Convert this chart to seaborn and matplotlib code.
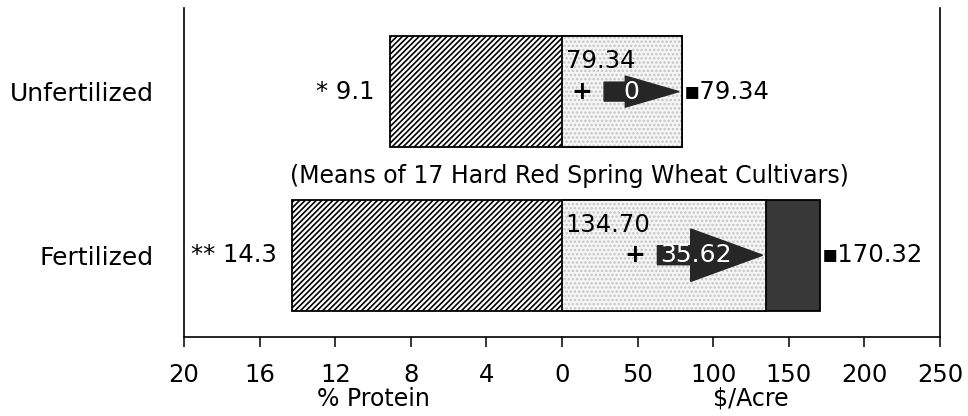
import matplotlib
matplotlib.use("Agg")
import matplotlib.pyplot as plt
import seaborn as sns
import pandas as pd
from matplotlib.patches import FancyArrow

# ---------------- data ----------------
categories = ["Unfertilized", "Fertilized"]
protein = [9.1, 14.3]
protein_marks = ["*", "**"]
base_return = [79.34, 134.70]
fert_gain = [0, 35.62]
total_return = [79.34, 170.32]
base_labels = ["79.34", "134.70"]
gain_labels = ["0", "35.62"]
total_labels = ["79.34", "170.32"]
protein_ticks = [20, 16, 12, 8, 4, 0]
dollar_ticks = [50, 100, 150, 200, 250]
note = "(Means of 17 Hard Red Spring Wheat Cultivars)"

# ---------------- style ----------------
sns.set_theme(style="ticks")
plt.rcParams["font.family"] = ["DejaVu Sans"]
for k in ("axes.edgecolor", "xtick.color", "ytick.color", "text.color",
          "axes.labelcolor", "xtick.labelcolor", "ytick.labelcolor"):
    plt.rcParams[k] = "black"
plt.rcParams["hatch.linewidth"] = 1.2

W, H = 968, 416
fig = plt.figure(figsize=(W / 100, H / 100), dpi=100)
x0, xm, x1 = 184, 562, 940
ytop, ybot = 8, 337
axL = fig.add_axes([x0 / W, 1 - ybot / H, (xm - x0) / W, (ybot - ytop) / H])
axR = fig.add_axes([xm / W, 1 - ybot / H, (x1 - xm) / W, (ybot - ytop) / H])

df = pd.DataFrame({"category": categories, "protein": protein,
                   "base": base_return, "total": total_return})

# left: % protein (hatched)
sns.barplot(data=df, x="protein", y="category", orient="h", ax=axL,
            color="white", saturation=1, edgecolor="black", linewidth=1.3,
            hatch="//////", width=0.68, errorbar=None)
# right: $/acre, total (dark) then base (light stipple) on top
sns.barplot(data=df, x="total", y="category", orient="h", ax=axR,
            color="#383838", saturation=1, edgecolor="black", linewidth=1.3,
            width=0.68, errorbar=None)
sns.barplot(data=df, x="base", y="category", orient="h", ax=axR,
            color="#f6f6f6", saturation=1, edgecolor="#c4c4c4", linewidth=0,
            hatch="....", width=0.68, errorbar=None)
sns.barplot(data=df, x="base", y="category", orient="h", ax=axR,
            color="black", fill=False, linewidth=1.3, width=0.68,
            errorbar=None)

ylim = (1.50, -0.511)
axL.set_xlim(20, 0)
axR.set_xlim(0, 250)
axL.set_ylim(*ylim)
axR.set_ylim(*ylim)

for ax in (axL, axR):
    ax.spines["top"].set_visible(False)
    ax.spines["bottom"].set_linewidth(1.2)
    ax.tick_params(axis="x", direction="out", length=7, width=1.1,
                   pad=11.5, labelsize=17.5)
    ax.set_ylabel("")
axL.spines["right"].set_visible(False)
axL.spines["left"].set_linewidth(1.2)
axR.spines["left"].set_visible(False)
axR.spines["right"].set_visible(True)
axR.spines["right"].set_linewidth(1.2)

axL.set_xticks(protein_ticks)
axL.set_xticklabels([str(t) for t in protein_ticks])
axR.set_xticks(dollar_ticks)
axR.set_xticklabels([str(t) for t in dollar_ticks])
axL.set_yticks(range(len(categories)))
axL.set_yticklabels(categories)
axL.tick_params(axis="y", length=0, pad=22, labelsize=18)
axR.tick_params(axis="y", left=False, labelleft=False)
axL.set_xlabel("% Protein", fontsize=17, labelpad=0)
axR.set_xlabel(r"\$/Acre", fontsize=17, labelpad=0)

# protein labels
for i, (p, m) in enumerate(zip(protein, protein_marks)):
    axL.annotate(f"{m} {p}", xy=(p, i), xytext=(-11, 0),
                 textcoords="offset points", ha="right", va="center",
                 fontsize=17.5)

# dollar annotations
arrow_len = [49.5, 69.6]
head_len = [35.5, 47.6]
head_w = [0.19, 0.32]
for i in range(len(categories)):
    axR.text(2.5, i - 0.185, base_labels[i], ha="left", va="center",
             fontsize=17.5)
    tip = base_return[i] - 2
    tail = tip - arrow_len[i]
    axR.add_patch(FancyArrow(tail, i, arrow_len[i], 0, width=0.116,
                             head_width=head_w[i], head_length=head_len[i],
                             length_includes_head=True, color="#262626",
                             zorder=5))
    axR.text(tail - 15, i, "+", ha="center", va="center", fontsize=18,
             fontweight="bold")
    axR.text(tail + 0.37 * arrow_len[i], i, gain_labels[i], color="white",
             ha="center", va="center", fontsize=18, zorder=6)
    axR.annotate("\u25aa" + total_labels[i], xy=(total_return[i], i),
                 xytext=(1.5, 0), textcoords="offset points", ha="left",
                 va="center", fontsize=17.5)

fig.text(569 / W, 1 - 176 / H, note, ha="center", va="center", fontsize=17)

fig.savefig("out.png", dpi=100)
